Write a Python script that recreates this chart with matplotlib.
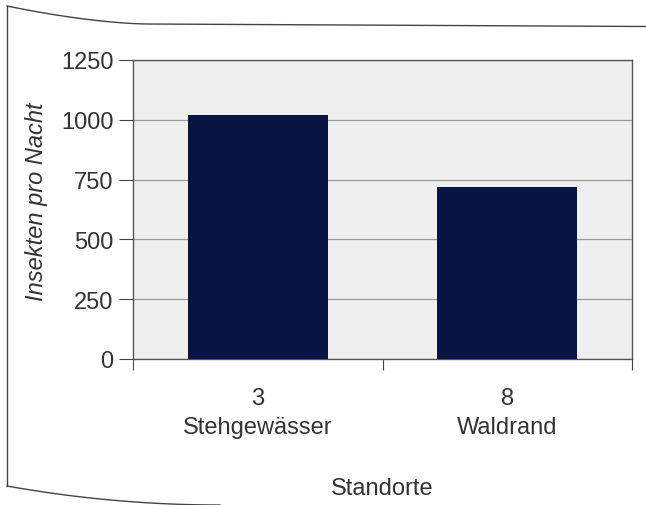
import matplotlib
matplotlib.use("Agg")
import matplotlib.pyplot as plt
import numpy as np

categories = ["3\nStehgewässer", "8\nWaldrand"]
values = [1020, 718]
yticks = [0, 250, 500, 750, 1000, 1250]

plt.rcParams['font.family'] = ['Liberation Sans', 'DejaVu Sans']
txt = '#333333'

fig = plt.figure(figsize=(6.46, 5.06), dpi=100)
ax = fig.add_axes([133/646, 1-360/506, (632-133)/646, (360-61)/506])
ax.set_facecolor('#efefef')
x = np.arange(len(categories))
ax.bar(x, values, width=0.56, color='#0a1442', zorder=3)
ax.set_xlim(-0.5, 1.5)
ax.set_ylim(0, 1250)
ax.set_yticks(yticks)
ax.set_yticklabels([str(v) for v in yticks], fontsize=17, color=txt)
ax.yaxis.grid(True, color='#9a9a9a', linewidth=0.9, zorder=1)
ax.set_xticks([-0.5, 0.5, 1.5])
ax.set_xticklabels([])
ax.set_xticks(x, minor=True)
ax.set_xticklabels(categories, minor=True, fontsize=17, color=txt, linespacing=1.45)
ax.tick_params(axis='x', which='minor', length=0, pad=20)
ax.tick_params(axis='x', which='major', length=8, direction='out', color='#444')
ax.tick_params(axis='y', length=10, direction='out', color='#444', pad=4)
for s in ax.spines.values():
    s.set_color('#555')
    s.set_linewidth(1.0)
ax.set_ylabel("Insekten pro Nacht", fontsize=17, style='italic', color=txt)
ax.yaxis.set_label_coords(-0.17, 0.53)
fig.text(382/646, 1-489/506, "Standorte", fontsize=17, color=txt, ha='center', va='center')

# scanned frame decoration
xt = np.linspace(7, 646, 200)
s = np.clip((xt - 7) / 140, 0, 1)
yt_top = 7 + 18*(1 - (1-s)**1.6) + (xt - 147).clip(0) * 0.005
xb = np.linspace(7, 220, 60)
sb = (xb - 7) / 213
yb = 487 + 19*(1 - (1-sb)**2)
fig.add_artist(plt.Line2D(xt/646, 1-yt_top/506, color='#444', lw=1.0))
fig.add_artist(plt.Line2D(xb/646, 1-yb/506, color='#444', lw=1.0))
fig.add_artist(plt.Line2D([7/646, 7/646], [1-7/506, 1-487/506], color='#444', lw=1.0))

fig.savefig("out.png", dpi=100, facecolor='white')
